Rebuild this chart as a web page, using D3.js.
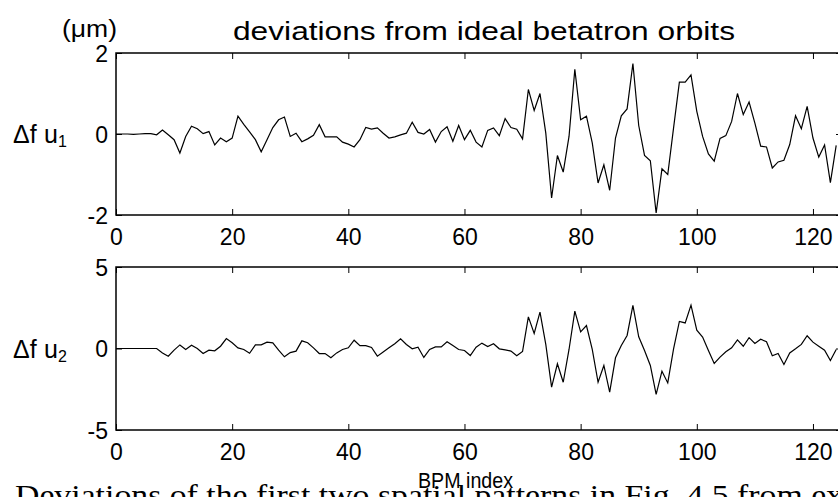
<!DOCTYPE html>
<html>
<head>
<meta charset="utf-8">
<script src="https://cdn.jsdelivr.net/npm/d3@7"></script>
<style>
  html, body { margin: 0; padding: 0; background: #fff; overflow: hidden; }
  svg { display: block; }
  text { font-family: "Liberation Sans", Arial, sans-serif; fill: #000; }
</style>
</head>
<body>
<svg id="chart" width="838" height="497"></svg>
<script>
// BPM indices 0..124
const bpmIndex = d3.range(0, 125);

// deviation of the first spatial pattern (μm)
const devU1 = [
  0, 0, 0, -0.01, 0, 0.01, 0.01, -0.02, 0.1, -0.02,
  -0.14, -0.47, -0.06, 0.19, 0.13, 0.01, 0.06, -0.27, -0.1, -0.19,
  -0.1, 0.44, 0.24, 0.05, -0.14, -0.44, -0.14, 0.16, 0.35, 0.42,
  -0.06, 0.02, -0.19, -0.12, -0.03, 0.23, -0.07, -0.07, -0.07, -0.2,
  -0.25, -0.32, -0.14, 0.16, 0.12, 0.15, 0.02, -0.1, -0.07, -0.02,
  0.02, 0.29, 0.04, 0, 0.11, -0.2, 0.06, 0.18, -0.18, 0.21,
  -0.14, 0.09, -0.2, -0.32, 0.09, 0.15, -0.04, 0.38, 0.16, 0.12,
  -0.12, 1.1, 0.58, 1.0, 0.02, -1.58, -0.53, -0.94, -0.06, 1.6,
  0.35, 0.44, -0.22, -1.21, -0.76, -1.39, -0.1, 0.45, 0.62, 1.74,
  0.21, -0.53, -0.66, -1.95, -0.86, -1.0, 0.15, 1.28, 1.28, 1.46,
  0.56, -0.06, -0.49, -0.67, -0.11, -0.04, 0.31, 1.0, 0.48, 0.79,
  0.27, -0.3, -0.32, -0.84, -0.69, -0.65, -0.26, 0.45, 0.13, 0.68,
  -0.1, -0.57, -0.27, -1.2, -0.28
];

// deviation of the second spatial pattern (μm)
const devU2 = [
  0, 0, 0, 0, 0, 0, 0, 0, -0.27, -0.47,
  -0.1, 0.22, -0.06, 0.2, 0, -0.31, -0.1, -0.14, 0.14, 0.61,
  0.35, 0.04, -0.06, -0.29, 0.22, 0.22, 0.39, 0.35, -0.1, -0.51,
  -0.25, -0.16, 0.47, 0.35, 0.04, -0.31, -0.31, -0.57, -0.27, -0.06,
  0.04, 0.51, 0.18, 0.18, 0.06, -0.47, -0.22, 0.04, 0.29, 0.59,
  0.25, -0.02, 0.08, -0.55, -0.06, 0.1, 0.1, 0.41, 0.18, -0.06,
  -0.12, -0.43, 0.08, 0.33, 0.12, 0.29, -0.02, -0.08, -0.16, -0.45,
  -0.18, 1.94, 0.92, 2.23, 0.25, -2.37, -0.94, -2.07, -0.06, 2.29,
  1.02, 1.41, -0.06, -2.07, -1.04, -2.68, -0.57, 0.18, 0.8, 2.64,
  0.72, -0.12, -1.04, -2.82, -1.39, -2.11, -0.02, 1.66, 1.57, 2.66,
  1.12, 0.7, -0.12, -0.92, -0.53, -0.2, 0.04, 0.53, 0.14, 0.67,
  0.31, 0.57, 0.41, -0.45, -0.31, -0.98, -0.27, -0.02, 0.25, 0.78,
  0.39, 0.14, -0.1, -0.74, -0.06
];

const xTicks = [0, 20, 40, 60, 80, 100, 120];
const yTicksU1 = [-2, 0, 2];
const yTicksU2 = [-5, 0, 5];

const svg = d3.select("#chart");

const left = 116, right = 842;
const x = d3.scaleLinear().domain([0, 125]).range([left, right]);

const panels = [
  { values: devU1, domain: [-2, 2], ticks: yTicksU1, top: 53, bottom: 215, sub: "1" },
  { values: devU2, domain: [-5, 5], ticks: yTicksU2, top: 267, bottom: 430, sub: "2" }
];

const fmt = d => String(d).replace("\u2212", "-");

panels.forEach(p => {
  const y = d3.scaleLinear().domain(p.domain).range([p.bottom, p.top]);
  const g = svg.append("g");

  // data line
  const line = d3.line().x((d, i) => x(bpmIndex[i])).y(d => y(d));
  g.append("path")
    .datum(p.values)
    .attr("d", line)
    .attr("fill", "none")
    .attr("stroke", "#000")
    .attr("stroke-width", 1.2)
    .attr("stroke-linejoin", "miter");

  // axes: ticks pointing inward on all four sides
  const tickStyle = sel => {
    sel.select(".domain").remove();
    sel.selectAll(".tick line").attr("stroke", "#000").attr("stroke-width", 1);
    sel.selectAll(".tick text").style("font-size", "23px").attr("fill", "#000");
  };

  g.append("g")
    .attr("transform", `translate(0,${p.bottom})`)
    .call(d3.axisBottom(x).tickValues(xTicks).tickSizeInner(-6).tickSizeOuter(0).tickPadding(12).tickFormat(fmt))
    .call(tickStyle)
    .call(s => s.selectAll(".tick text").attr("dy", "0.71em").attr("y", 14));

  g.append("g")
    .attr("transform", `translate(0,${p.top})`)
    .call(d3.axisTop(x).tickValues(xTicks).tickSizeInner(-6).tickSizeOuter(0).tickFormat(""))
    .call(tickStyle);

  g.append("g")
    .attr("transform", `translate(${left},0)`)
    .call(d3.axisLeft(y).tickValues(p.ticks).tickSizeInner(-6).tickSizeOuter(0).tickPadding(8).tickFormat(fmt))
    .call(tickStyle)
    .call(s => s.selectAll(".tick text").attr("x", -8).attr("dy", "0.36em"));

  g.append("g")
    .attr("transform", `translate(${right},0)`)
    .call(d3.axisRight(y).tickValues(p.ticks).tickSizeInner(-6).tickSizeOuter(0).tickFormat(""))
    .call(tickStyle);

  // frame
  g.append("rect")
    .attr("x", left).attr("y", p.top)
    .attr("width", right - left).attr("height", p.bottom - p.top)
    .attr("fill", "none").attr("stroke", "#000").attr("stroke-width", 1.5);

  // y label: Δf u with subscript
  const ylab = g.append("text")
    .attr("y", y(0) + 9)
    .style("font-size", "25px");
  ylab.append("tspan").attr("x", 13).text("\u0394f");
  ylab.append("tspan").attr("x", 44).text("u");
  ylab.append("tspan").attr("dy", 4).style("font-size", "16px").text(p.sub);
});

// unit label
svg.append("text")
  .attr("x", 62).attr("y", 37)
  .attr("textLength", 55).attr("lengthAdjust", "spacingAndGlyphs")
  .style("font-size", "23px")
  .text("(\u03bcm)");

// title
svg.append("text")
  .attr("x", 233).attr("y", 40)
  .attr("textLength", 502).attr("lengthAdjust", "spacingAndGlyphs")
  .style("font-size", "25px")
  .text("deviations from ideal betatron orbits");

// x axis label
svg.append("text")
  .attr("x", 418).attr("y", 488)
  .attr("textLength", 95).attr("lengthAdjust", "spacingAndGlyphs")
  .style("font-size", "22px")
  .text("BPM index");

// caption line underneath the figure
svg.append("text")
  .attr("x", 15).attr("y", 505)
  .attr("textLength", 828).attr("lengthAdjust", "spacingAndGlyphs")
  .style("font-family", "'Liberation Serif', 'DejaVu Serif', serif")
  .style("font-size", "30px")
  .text("Deviations of the first two spatial patterns in Fig. 4.5 from ex");
</script>
</body>
</html>
